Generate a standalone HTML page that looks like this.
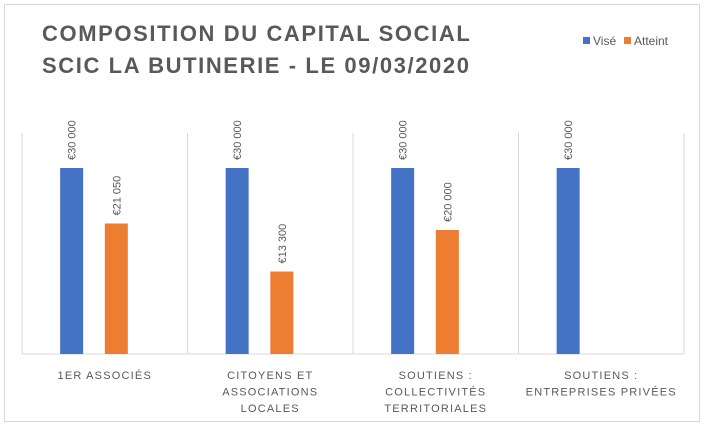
<!DOCTYPE html>
<html><head><meta charset="utf-8"><style>
body{margin:0;background:#fff;font-family:"Liberation Sans",sans-serif}
svg text{font-family:"Liberation Sans",sans-serif;fill:#595959}
</style></head><body>
<svg width="705" height="425">
<rect x="4.5" y="4.5" width="695" height="417" fill="#fff" stroke="#d9d9d9"/>
<text x="42" y="41" font-size="22" font-weight="bold" letter-spacing="1.6">COMPOSITION DU CAPITAL SOCIAL</text>
<text x="42" y="73" font-size="22" font-weight="bold" letter-spacing="1.6">SCIC LA BUTINERIE - LE 09/03/2020</text>
<g>
<rect x="583" y="37" width="7" height="7" fill="#4472c4"/>
<text x="593" y="45" font-size="12">Visé</text>
<rect x="624" y="37" width="7" height="7" fill="#ed7d31"/>
<text x="634" y="45" font-size="12">Atteint</text>
</g>
<g id="plot"></g>
</svg>
<script>
const categories=[["1ER ASSOCIÉS"],["CITOYENS ET","ASSOCIATIONS","LOCALES"],["SOUTIENS :","COLLECTIVITÉS","TERRITORIALES"],["SOUTIENS :","ENTREPRISES PRIVÉES"]];
const vise=[30000,30000,30000,30000];
const atteint=[21050,13300,20000,null];
const viseLabels=["€30 000","€30 000","€30 000","€30 000"];
const atteintLabels=["€21 050","€13 300","€20 000",""];
const NS="http://www.w3.org/2000/svg";
const g=document.getElementById('plot');
const x0=22,x1=684,yBase=354,yTop=137,yMax=35000;
const bw=(x1-x0)/categories.length;
const y=v=>yBase-(v/yMax)*(yBase-yTop);
function mk(t,a){const e=document.createElementNS(NS,t);for(const k in a)e.setAttribute(k,a[k]);g.appendChild(e);return e;}
for(let i=0;i<=categories.length;i++){
  const l=mk('line',{x1:x0+i*bw,x2:x0+i*bw,y1:yTop-4,y2:yBase,stroke:'#d9d9d9'});
  
  
}
const ax=mk('line',{x1:x0,x2:x1,y1:yBase,y2:yBase,stroke:'#d9d9d9'});


function bar(cx,v,color,label,name){
  if(v==null)return;
  const r=mk('rect',{x:cx-11.5,y:y(v),width:23,height:yBase-y(v),fill:color});
  
  
  const ty=y(v)-8;
  const t=mk('text',{x:cx+4,y:ty,'font-size':11,transform:`rotate(-90 ${cx+4} ${ty})`});
  t.textContent=label;
  
  
}
categories.forEach((c,i)=>{
  const base=x0+i*bw;
  bar(base+bw*0.3,vise[i],'#4472c4',viseLabels[i],'bar-vise-'+(i+1));
  bar(base+bw*0.57,atteint[i],'#ed7d31',atteintLabels[i],'bar-atteint-'+(i+1));
  c.forEach((line,j)=>{
    const t=mk('text',{x:base+bw/2,y:379+j*16.5,'font-size':11,'text-anchor':'middle','letter-spacing':'1.2'});
    t.textContent=line;
    
    
  });
});
</script>
</body></html>
